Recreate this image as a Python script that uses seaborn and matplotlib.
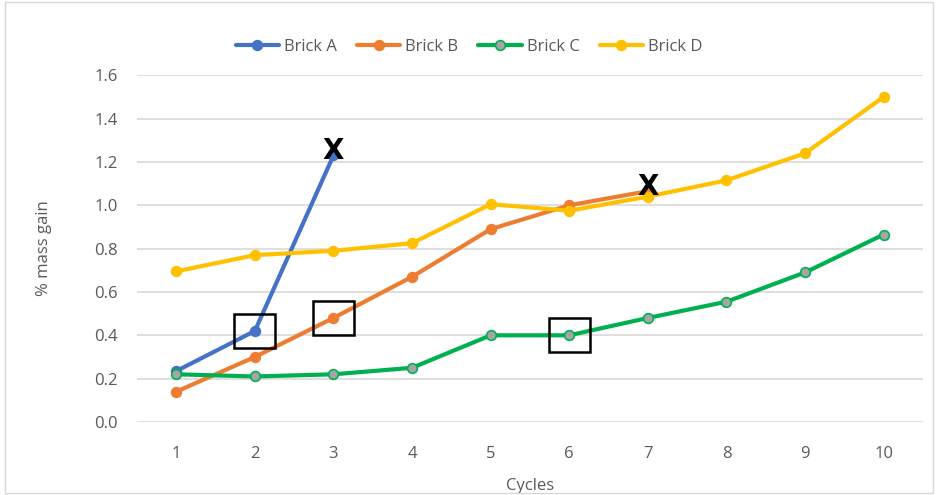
import numpy as np
import pandas as pd
import seaborn as sns
import matplotlib.pyplot as plt
from matplotlib.patches import Rectangle

# Data
cycles = [1, 2, 3, 4, 5, 6, 7, 8, 9, 10]
brick_a = [0.235, 0.42, 1.23]
brick_b = [0.14, 0.30, 0.48, 0.67, 0.89, 1.00, 1.065]
brick_c = [0.22, 0.21, 0.22, 0.25, 0.40, 0.40, 0.48, 0.555, 0.69, 0.865]
brick_d = [0.695, 0.77, 0.79, 0.825, 1.005, 0.975, 1.04, 1.115, 1.24, 1.50]
names = ['Brick A', 'Brick B', 'Brick C', 'Brick D']
colors = ['#4472C4', '#ED7D31', '#00B050', '#FFC000']
# points boxed in the original (series, cycle)
boxed = [('Brick A', 2), ('Brick B', 3), ('Brick C', 6)]
# series that stop (marked with an X)
stopped = ['Brick A', 'Brick B']

series = {'Brick A': brick_a, 'Brick B': brick_b, 'Brick C': brick_c, 'Brick D': brick_d}

sns.set_style('white')
plt.rcParams['font.family'] = ['Open Sans', 'DejaVu Sans']
grey = '#595959'

fig = plt.figure(figsize=(9.38, 4.95), dpi=100)
ax = fig.add_axes([0.146, 0.1475, 0.838, 0.7005])

for name, col in zip(names, colors):
    vals = series[name]
    df = pd.DataFrame({'Cycles': cycles[:len(vals)], 'gain': vals})
    face = '#A5A5A5' if name == 'Brick C' else col
    sns.lineplot(data=df, x='Cycles', y='gain', ax=ax, color=col, linewidth=3,
                 marker='o', markersize=7, markerfacecolor=face,
                 markeredgecolor=col, markeredgewidth=1.2, label=name, zorder=3)

# X marks at the last point of the stopped series
for name in stopped:
    vals = series[name]
    ax.annotate('X', (cycles[len(vals) - 1], vals[-1]), xytext=(0, 3),
                textcoords='offset points', ha='center', va='center',
                fontsize=20, fontweight='bold', color='black',
                family='DejaVu Sans', zorder=5)

# boxes around highlighted points
for name, cyc in boxed:
    v = series[name][cycles.index(cyc)]
    w, h = 0.52, 0.157
    ax.add_patch(Rectangle((cyc - w / 2, v - h / 2), w, h, fill=False,
                           edgecolor='black', linewidth=1.8, zorder=4))

ax.set_xlim(0.5, 10.5)
ax.set_ylim(0, 1.6)
ax.set_xticks(cycles)
ax.set_yticks(np.arange(0, 1.61, 0.2))
ax.set_yticklabels(['%.1f' % t for t in np.arange(0, 1.61, 0.2)])
ax.tick_params(length=0, labelsize=12, colors=grey)
ax.tick_params(axis='x', pad=17)
ax.tick_params(axis='y', pad=14)
ax.yaxis.grid(True, color='#D9D9D9', linewidth=1.2)
ax.xaxis.grid(False)
for s in ax.spines.values():
    s.set_visible(False)
ax.set_xlabel('Cycles', fontsize=12, color=grey, labelpad=12)
ax.set_ylabel('% mass gain', fontsize=12, color=grey, labelpad=30)

ax.get_legend().remove()
handles, labels = ax.get_legend_handles_labels()
fig.legend(handles, labels, loc='center', bbox_to_anchor=(0.5, 0.906), ncol=4,
           frameon=False, fontsize=12, labelcolor=grey, handlelength=2.6,
           handletextpad=0.3, columnspacing=1.2)

fig.add_artist(Rectangle((0.005, 0.005), 0.99, 0.99, transform=fig.transFigure,
                         fill=False, edgecolor='#D9D9D9', linewidth=1))

fig.savefig('out.png', dpi=100)
